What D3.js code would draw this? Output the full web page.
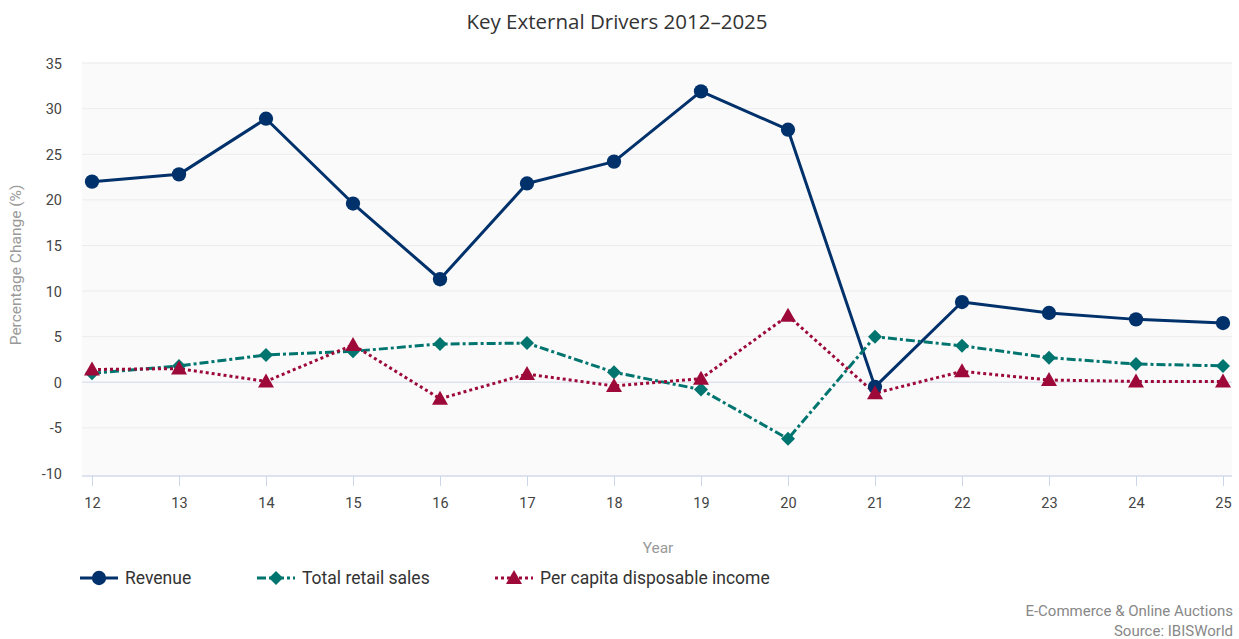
<!DOCTYPE html>
<html><head><meta charset="utf-8">
<script src="https://cdn.jsdelivr.net/npm/d3@7/dist/d3.min.js"></script>
<style>body{margin:0;background:#fff}svg{display:block}</style>
</head><body><svg id="c" width="1239" height="639"></svg>
<script>
const years = ["12","13","14","15","16","17","18","19","20","21","22","23","24","25"];
const revenue = [22.0,22.8,28.9,19.6,11.3,21.8,24.2,31.9,27.7,-0.5,8.8,7.6,6.9,6.5];
const retailSales = [1.0,1.8,3.0,3.4,4.2,4.3,1.1,-0.8,-6.2,5.0,4.0,2.7,2.0,1.8];
const disposableIncome = [1.4,1.5,0.1,4.1,-1.8,0.9,-0.4,0.4,7.3,-1.2,1.2,0.25,0.1,0.1];
const yTicks = [-10,-5,0,5,10,15,20,25,30,35];

const series = [
  {name:"Revenue", values:revenue, color:"#00316b", dash:null, marker:"circle"},
  {name:"Total retail sales", values:retailSales, color:"#00746e", dash:"9,3,3,3", marker:"diamond"},
  {name:"Per capita disposable income", values:disposableIncome, color:"#9d0a3a", dash:"3,3", marker:"triangle"}
];

const svg = d3.select("#c");
const plot = {left:82, right:1232, top:62, bottom:475};
const x = d3.scaleLinear().domain([0, years.length-1]).range([92, 1223]);
const y = d3.scaleLinear().domain([-10,35]).range([473.5, 63.1]);

svg.append("rect").attr("x",plot.left).attr("y",plot.top).attr("width",plot.right-plot.left)
  .attr("height",plot.bottom-plot.top).attr("fill","#fafafa");

// gridlines
svg.append("g").selectAll("line").data(yTicks.filter(d=>d!==-10)).join("line")
  .attr("x1",plot.left).attr("x2",plot.right)
  .attr("y1",d=>y(d)).attr("y2",d=>y(d))
  .attr("stroke",d=>d===0?"#dfe3f0":"#ececec").attr("stroke-width",d=>d===0?1.5:1);

// y axis labels
const yAxis = d3.axisLeft(y).tickValues(yTicks).tickSize(0).tickPadding(0).tickFormat(d=>d);
const ya = svg.append("g").attr("transform","translate(62,0)").call(yAxis);
ya.select(".domain").remove();
ya.selectAll("text").attr("font-family","Roboto").attr("font-size",14.5).attr("fill","#444").attr("dy","0.35em");

// x axis
const xAxis = d3.axisBottom(x).tickValues(d3.range(years.length)).tickSize(10).tickPadding(12).tickFormat(i=>years[i]);
const xa = svg.append("g").attr("transform",`translate(0,${plot.bottom+1})`).call(xAxis);
xa.select(".domain").attr("d",`M${plot.left},0H${plot.right}`).attr("stroke","#dfe3f0").attr("stroke-width",2);
xa.selectAll(".tick line").attr("stroke","#ccd6eb");
xa.selectAll("text").attr("font-family","Roboto").attr("font-size",14.5).attr("fill","#444");

// axis titles
svg.append("text").attr("x",658).attr("y",553).attr("text-anchor","middle")
  .attr("font-family","Roboto").attr("font-size",15.5).attr("fill","#999").text("Year");
svg.append("text").attr("transform","translate(21,265) rotate(-90)").attr("text-anchor","middle")
  .attr("font-family","Roboto").attr("font-size",15.5).attr("fill","#999").text("Percentage Change (%)");

// title
svg.append("text").attr("x",617).attr("y",29).attr("text-anchor","middle")
  .attr("font-family","Open Sans").attr("font-size",20.5).attr("fill","#333").text("Key External Drivers 2012\u20132025");

function markerPath(type){
  if(type==="circle") return d3.symbol(d3.symbolCircle, 160)();
  if(type==="diamond") return "M0,-7L7,0L0,7L-7,0Z";
  return "M0,-8L8,6L-8,6Z";
}

const line = d3.line().x((d,i)=>x(i)).y(d=>y(d));
series.forEach(s=>{
  svg.append("path").attr("d",line(s.values)).attr("fill","none").attr("stroke",s.color)
    .attr("stroke-width",3).attr("stroke-dasharray",s.dash).attr("stroke-linejoin","round");
});
series.forEach(s=>{
  svg.append("g").selectAll("path").data(s.values).join("path")
    .attr("transform",(d,i)=>`translate(${x(i)},${y(d)})`)
    .attr("d",markerPath(s.marker)).attr("fill",s.color);
});

// legend
const legendX = [80, 257, 495];
series.forEach((s,i)=>{
  const g = svg.append("g").attr("transform",`translate(${legendX[i]},578)`);
  g.append("line").attr("x1",0).attr("x2",38).attr("y1",0).attr("y2",0)
    .attr("stroke",s.color).attr("stroke-width",3).attr("stroke-dasharray",s.dash);
  g.append("path").attr("transform","translate(19,0)").attr("d",markerPath(s.marker)).attr("fill",s.color);
  g.append("text").attr("x",45).attr("y",0).attr("dy","0.35em")
    .attr("font-family","Roboto").attr("font-size",17.5).attr("fill","#333").text(s.name);
});

// credits
svg.append("text").attr("x",1233).attr("y",616).attr("text-anchor","end")
  .attr("font-family","Roboto").attr("font-size",15).attr("fill","#888").text("E-Commerce & Online Auctions");
svg.append("text").attr("x",1233).attr("y",636).attr("text-anchor","end")
  .attr("font-family","Roboto").attr("font-size",15).attr("fill","#888").text("Source: IBISWorld");
</script></body></html>
